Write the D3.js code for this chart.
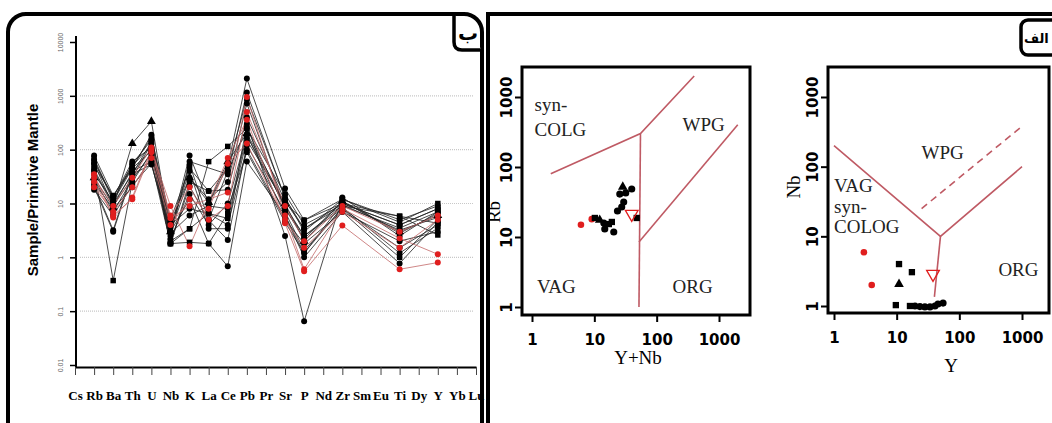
<!DOCTYPE html>
<html>
<head>
<meta charset="utf-8">
<script src="https://cdn.jsdelivr.net/npm/d3@7"></script>
<style>
  body { margin: 0; background: #fff; }
  svg { display: block; }
</style>
</head>
<body>
<div id="chart"></div>
<script>
// ---- spider diagram data (normalised to primitive mantle) ----
const elements = ["Cs","Rb","Ba","Th","U","Nb","K","La","Ce","Pb","Pr","Sr","P","Nd","Zr","Sm","Eu","Ti","Dy","Y","Yb","Lu"];
const measured = ["Rb","Ba","Th","U","Nb","K","La","Ce","Pb","Sr","P","Zr","Ti","Y"];
const spiderTicks = [0.01, 0.1, 1, 10, 100, 1000, 10000];
const spiderTickLabels = ["0.01", "0.1", "1", "10", "100", "1000", "10000"];
const spiderGrid = [0.1, 1, 10, 100, 1000];

// one row per sample, columns follow `measured`
const sampleValues = [
  [35, 5.5, 13, 100, 9, 1.6, null, 70, 360, 4.3, 0.55, 3.9, 0.6, 0.8],
  [25, 6, 12, 90, 5.3, 9, null, 16, 950, 6, 0.6, 8, 2.25, 1.14],
  [30, 9, 30, 110, 6, 20, 5, 9, 500, 9, 2, 9, 3, 6],
  [20, 7, 20, 70, 4, 12, 8, 55, 130, 5, 1.5, 7, 1.5, 5],
  [78, 14, 45, 190, 3, 78, 10, 50, 2090, 19, 4.9, 12, 5, 9],
  [65, 11, 55, 150, 2.5, 60, null, 35, 1150, 12.4, 3.4, 10, 4, 8],
  [45, 0.37, 25, 90, 1.8, 3.4, 60, 115, 250, 8.1, 2.5, 9, 5.8, 4.3],
  [30, 8.4, 130, 334, 3, 30, 10.5, 60, 200, 10, 2, 11, 3, 6],
  [22, 3.2, 40, 60, 1.8, 21, 4.9, 2.1, 120, 7, 1.35, 8, 1.5, 4],
  [20, 3, 35, 53, 3, 12, 1.8, 0.68, 60, 6, 1, 7, 2, 3],
  [50, 14, 50, 120, 2, 3.4, 6.5, 5.3, 150, 10, 4.9, 10, 5.8, 2.6],
  [55, 9, 30, 130, 3.5, 40, 3.4, 3.4, 300, 2.5, 0.065, 13, 2.5, 7],
  [28, 7, 28, 85, 1.8, 1.9, 1.8, 6.5, 180, 9, 2.5, 8, 1, 5],
  [35, 11, 45, 95, 1.8, 25, 17, 18, 400, 11, 3.4, 9, 3.5, 7],
  [24, 8, 20, 70, 4, 8, 6.5, 4, 100, 5, 1.8, 7, 0.77, 4.5],
  [18, 6, 22, 55, 2.8, 6, 9, 8, 90, 4.5, 1.2, 10, 4, 8],
  [68, 12, 48, 170, 5, 45, 17, 45, 890, 13, 3, 12, 4.5, 10],
  [42, 10, 35, 140, 4.5, 30, 12, 25, 720, 8, 2.2, 11, 2.8, 6.5],
  [58, 13, 60, 110, 3, 53, 5, 40, 250, 15, 4, 9.5, 3.2, 5.5],
  [40, 9, 38, 100, 2.2, 15, 4, 10, 190, 6, 1.2, 8.5, 1.2, 3.5]
];
const sampleGroup = ["red","red","red","red","black","black","black","black","black","black",
                     "black","black","black","black","black","black","black","black","black","black"];
const sampleSymbol = ["circle","circle","circle","circle","circle","circle","square","triangle","circle","circle",
                      "square","circle","square","circle","circle","circle","square","circle","circle","circle"];

// ---- Pearce discrimination diagrams ----
const logTicks = [1, 10, 100, 1000];
const logTickLabels = ["1", "10", "100", "1000"];

// Rb vs Y+Nb
const rbX = [6.1, 9.1, 10.2, 12.2, 14.2, 14.7, 17.1, 19.1, 20.5, 23.5, 27.5, 29.6, 25.6, 28.6, 31.9, 39.8, 47.9, 39.8];
const rbY = [15, 18, 18.7, 17.5, 15.8, 13, 15.3, 16.4, 11.8, 23.5, 26.8, 31.6, 41, 52, 42.6, 48.5, 18.7, 21.3];
const rbKind = ["red","red","square","triangle","circle","circle","square","square","circle","circle",
                "circle","circle","circle","triangle","circle","circle","square","open"];
const rbLines = [
  [[2, 80], [55, 300], [400, 2000]],
  [[55, 300], [52, 1]],
  [[52, 8.5], [2000, 400]]
];
const rbLabels = [["syn-", 1.1, 640], ["COLG", 1.1, 280], ["WPG", 260, 330], ["VAG", 1.2, 1.6], ["ORG", 180, 1.6]];

// Nb vs Y
const nbX = [3.0, 4.0, 10.9, 17.5, 10.9, 9.7, 16.3, 19.6, 23.5, 28.2, 34, 40.8, 45.6, 55, 38];
const nbY = [5.9, 2.0, 4.0, 3.06, 2.06, 1.03, 1.0, 1.0, 0.98, 0.97, 0.97, 1.0, 1.07, 1.1, 2.87];
const nbKind = ["red","red","square","square","triangle","square","square","circle","circle","circle",
                "circle","circle","circle","circle","open"];
const nbLines = [
  [[1, 200], [50, 10], [1000, 100]],
  [[50, 10], [40, 1.35]]
];
const nbDashed = [[25, 25], [1000, 380]];
const nbLabels = [["WPG", 25, 130], ["VAG", 1, 44], ["syn-", 1, 21.5], ["COLOG", 1, 11], ["ORG", 420, 2.7]];

const W = 1052, H = 423;
const svg = d3.select("#chart").append("svg").attr("width", W).attr("height", H);

const boundary = "#bf5a64";
const redPt = "#e01e1e";

// ---------------- frames ----------------
svg.append("rect").attr("x", 8).attr("y", 14).attr("width", 474).attr("height", 430).attr("rx", 18)
  .attr("fill", "none").attr("stroke", "#000").attr("stroke-width", 4);
svg.append("rect").attr("x", 488).attr("y", 14).attr("width", 600).attr("height", 430)
  .attr("fill", "none").attr("stroke", "#000").attr("stroke-width", 4);

// ---------------- spider diagram ----------------
const xs = d3.scalePoint().domain(elements).range([75, 476]);
const ys = d3.scaleLog().domain([0.01, 10000]).range([365, 42]);

svg.append("g").selectAll("line").data(spiderGrid).join("line")
  .attr("x1", 80).attr("x2", 473)
  .attr("y1", d => ys(d)).attr("y2", d => ys(d))
  .attr("stroke", "#c8c8c8").attr("stroke-width", 1.2).attr("stroke-dasharray", "1,1");

const line = d3.line().x(d => xs(d.el)).y(d => ys(d.v));
const series = sampleValues.map((row, i) => ({
  group: sampleGroup[i],
  symbol: sampleSymbol[i],
  pts: row.map((v, j) => ({ el: measured[j], v })).filter(d => d.v != null)
}));

// black first, red on top
const order = series.filter(s => s.group === "black").concat(series.filter(s => s.group === "red"));

svg.append("g").selectAll("path").data(order).join("path")
  .attr("d", s => line(s.pts))
  .attr("fill", "none")
  .attr("stroke", s => s.group === "red" ? "#c46a6a" : "#222")
  .attr("stroke-width", 0.9)
  .attr("stroke-opacity", 0.9);

const symType = { circle: d3.symbolCircle, square: d3.symbolSquare, triangle: d3.symbolTriangle };
const symSize = { circle: 28, square: 30, triangle: 34 };

order.forEach(s => {
  svg.append("g").selectAll("path").data(s.pts).join("path")
    .attr("transform", d => `translate(${xs(d.el)},${ys(d.v)})`)
    .attr("d", d3.symbol().type(symType[s.symbol]).size(symSize[s.symbol]))
    .attr("fill", s.group === "red" ? redPt : "#000");
});

// axes
const gx = svg.append("g").attr("transform", "translate(0,367)")
  .call(d3.axisBottom(xs).tickSize(8).tickSizeOuter(0).tickPadding(16));
gx.select(".domain").attr("stroke-width", 2);
gx.selectAll(".tick line").attr("stroke", "#444").attr("stroke-width", 1);
gx.selectAll("text").attr("font-family", "'Liberation Serif', serif").attr("font-weight", "bold")
  .attr("font-size", 13).attr("fill", "#000");

const gy = svg.append("g").attr("transform", "translate(76,0)")
  .call(d3.axisLeft(ys).tickValues(spiderTicks).tickFormat((d, i) => spiderTickLabels[i]).tickSize(6).tickSizeOuter(0));
gy.select(".domain").attr("stroke-width", 2).attr("d", "M0,36V367");
gy.selectAll(".tick line").attr("stroke-width", 1.5);
gy.selectAll("text")
  .attr("transform", "rotate(-90)").attr("x", 0).attr("y", -13).attr("dy", 0)
  .attr("text-anchor", "middle")
  .attr("font-family", "'Liberation Sans', sans-serif").attr("font-size", 7).attr("fill", "#666");

svg.append("text")
  .attr("transform", "translate(38,190) rotate(-90)")
  .attr("text-anchor", "middle")
  .attr("font-family", "'Liberation Sans', Arial, sans-serif").attr("font-weight", "bold").attr("font-size", 15)
  .text("Sample/Primitive Mantle");

// label box ب
svg.append("path").attr("d", "M454,14 V42 Q454,50 462,50 H482")
  .attr("fill", "#fff").attr("stroke", "#000").attr("stroke-width", 3.5);
svg.append("text").attr("x", 468).attr("y", 40).attr("text-anchor", "middle")
  .attr("font-family", "'DejaVu Sans', sans-serif").attr("font-weight", "bold").attr("font-size", 20)
  .text("ب");

// ---------------- discrimination plots ----------------
function drawPanel(cfg) {
  const x = d3.scaleLog().domain([1, 1000]).range(cfg.xr);
  const y = d3.scaleLog().domain([1, 1000]).range(cfg.yr);
  const g = svg.append("g");

  const ax = g.append("g").attr("transform", `translate(0,${cfg.frame[3]})`)
    .call(d3.axisBottom(x).tickValues(logTicks).tickFormat((d, i) => logTickLabels[i]).tickSize(7).tickPadding(12));
  ax.select(".domain").remove();
  ax.selectAll(".tick line").attr("stroke-width", 2);
  ax.selectAll("text").attr("font-family", "'DejaVu Sans', Verdana, sans-serif").attr("font-weight", "bold").attr("font-size", 15);

  const ay = g.append("g").attr("transform", `translate(${cfg.frame[0]},0)`)
    .call(d3.axisLeft(y).tickValues(logTicks).tickFormat((d, i) => logTickLabels[i]).tickSize(7));
  ay.select(".domain").remove();
  ay.selectAll(".tick line").attr("stroke-width", 2);
  ay.selectAll("text")
    .attr("transform", "rotate(-90)").attr("x", 0).attr("y", -10).attr("dy", 0)
    .attr("text-anchor", "middle")
    .attr("font-family", "'DejaVu Sans', Verdana, sans-serif").attr("font-weight", "bold").attr("font-size", 15);

  const l = d3.line().x(d => x(d[0])).y(d => y(d[1]));
  g.append("g").selectAll("path").data(cfg.lines).join("path")
    .attr("d", l).attr("fill", "none").attr("stroke", boundary).attr("stroke-width", 1.6);
  if (cfg.dashed) {
    g.append("path").attr("d", l(cfg.dashed)).attr("fill", "none")
      .attr("stroke", boundary).attr("stroke-width", 1.6).attr("stroke-dasharray", "7,5");
  }

  g.append("g").selectAll("text").data(cfg.labels).join("text")
    .attr("x", d => x(d[1])).attr("y", d => y(d[2]))
    .attr("font-family", "'Liberation Serif', 'Times New Roman', serif").attr("font-size", 19)
    .attr("fill", "#222")
    .text(d => d[0]);

  const pts = cfg.px.map((v, i) => ({ x: v, y: cfg.py[i], k: cfg.kind[i] }));
  g.append("g").selectAll("path").data(pts).join("path")
    .attr("transform", d => `translate(${x(d.x)},${y(d.y)})` + (d.k === "open" ? " rotate(180)" : ""))
    .attr("d", d => {
      if (d.k === "square") return d3.symbol().type(d3.symbolSquare).size(40)();
      if (d.k === "triangle") return d3.symbol().type(d3.symbolTriangle).size(40)();
      if (d.k === "open") return d3.symbol().type(d3.symbolTriangle).size(70)();
      return d3.symbol().type(d3.symbolCircle).size(d.k === "red" ? 34 : 40)();
    })
    .attr("fill", d => d.k === "open" ? "none" : d.k === "red" ? redPt : "#000")
    .attr("stroke", d => d.k === "open" ? redPt : "none")
    .attr("stroke-width", 1.3);

  // frame
  g.append("rect")
    .attr("x", cfg.frame[0]).attr("y", cfg.frame[1])
    .attr("width", cfg.frame[2] - cfg.frame[0]).attr("height", cfg.frame[3] - cfg.frame[1])
    .attr("fill", "none").attr("stroke", "#000").attr("stroke-width", 3);

  g.append("text").attr("x", cfg.xt[0]).attr("y", cfg.xt[1]).attr("text-anchor", "middle")
    .attr("font-family", "'Liberation Serif', 'Times New Roman', serif").attr("font-size", 19)
    .text(cfg.xTitle);
  g.append("text").attr("transform", `translate(${cfg.yt[0]},${cfg.yt[1]}) rotate(-90)`).attr("text-anchor", "middle")
    .attr("font-family", "'Liberation Serif', 'Times New Roman', serif").attr("font-size", 19)
    .text(cfg.yTitle);
}

drawPanel({
  xr: [532, 719], yr: [307, 97], frame: [522, 67, 750, 315],
  lines: rbLines, labels: rbLabels, px: rbX, py: rbY, kind: rbKind,
  xTitle: "Y+Nb", xt: [638, 364], yTitle: "Rb", yt: [500, 212]
});
drawPanel({
  xr: [834, 1022], yr: [306, 97], frame: [828, 67, 1049, 313],
  lines: nbLines, dashed: nbDashed, labels: nbLabels, px: nbX, py: nbY, kind: nbKind,
  xTitle: "Y", xt: [951, 372], yTitle: "Nb", yt: [800, 187]
});

// label box الف
svg.append("rect").attr("x", 1021).attr("y", 20).attr("width", 50).attr("height", 35).attr("rx", 7)
  .attr("fill", "#fff").attr("stroke", "#000").attr("stroke-width", 3.5);
svg.append("text").attr("x", 1024).attr("y", 43).attr("text-anchor", "start")
  .attr("font-family", "'DejaVu Sans', sans-serif").attr("font-weight", "bold").attr("font-size", 13)
  .text("الف");
</script>
</body>
</html>
